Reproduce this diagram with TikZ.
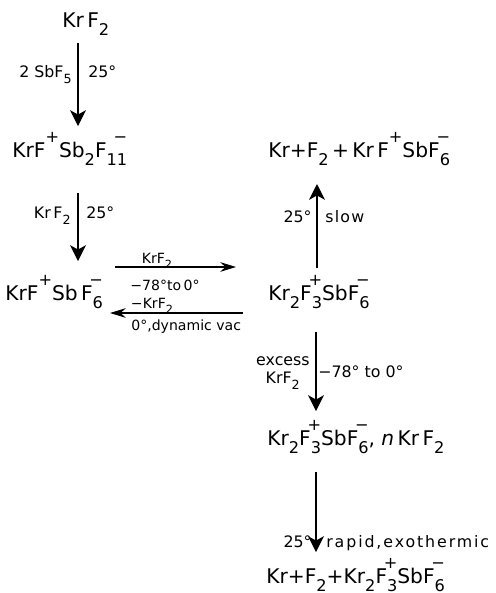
\documentclass[tikz,border=0pt]{standalone}
\usepackage{fontspec}
\setmainfont{DejaVu Sans}
\usepackage{graphicx}
\usetikzlibrary{arrows.meta}
\newcommand\cs[1]{\raisebox{-0.75ex}{\scalebox{0.8}{#1}}}
\newcommand\cp[1]{\raisebox{1.35ex}{\scalebox{0.8}{#1}}}
\newcommand\csp[2]{\cs{#1}\llap{\cp{#2}}}
\begin{document}
\begin{tikzpicture}[x=0.02cm,y=-0.02cm,
 chem/.style={inner sep=0pt,anchor=base west,font=\fontsize{11.5}{13}\selectfont},
 lab/.style={inner sep=0pt,font=\fontsize{9}{10}\selectfont},
 labs/.style={inner sep=0pt,font=\fontsize{8}{9}\selectfont},
 labl/.style={lab,anchor=base east},
 labr/.style={lab,anchor=base west},
 labc/.style={labs,anchor=base},
 rx/.style={line width=0.7pt,-{Stealth[length=9pt,width=9pt,inset=2.5pt]}},
 rxh/.style={line width=0.7pt,-{Stealth[length=9pt,width=5.5pt,inset=3pt]}}]
\useasboundingbox (0,0) rectangle (495,593);
% species
\node[chem] (a) at (62,27) {Kr\,F\cs{2}};
\node[chem] (b) at (12,157) {KrF\cp{+}Sb\cs{2}F\csp{11}{−}};
\node[chem] (c) at (5,300) {KrF\cp{+}Sb\,F\csp{6}{−}};
\node[chem] (d) at (268,157) {Kr+F\cs{2}\,+\,Kr\,F\cp{+}SbF\csp{6}{−}};
\node[chem] (e) at (268,300) {Kr\cs{2}F\csp{3}{+}SbF\csp{6}{−}};
\node[chem] (f) at (267,445) {Kr\cs{2}F\csp{3}{+}SbF\csp{6}{−}, \textit{n}\,Kr\,F\cs{2}};
\node[chem] (g) at (266,583) {Kr+F\cs{2}+Kr\cs{2}F\csp{3}{+}SbF\csp{6}{−}};
% arrow ends
\coordinate (a1s) at (78,43);  \coordinate (a1e) at (78,126);
\coordinate (a2s) at (78,193); \coordinate (a2e) at (78,261);
\coordinate (h1s) at (115,267); \coordinate (h1e) at (236,267);
\coordinate (h2s) at (243,313); \coordinate (h2e) at (110,313);
\coordinate (u1s) at (317,268); \coordinate (u1e) at (317,184);
\coordinate (d1s) at (316,332); \coordinate (d1e) at (316,411);
\coordinate (d2s) at (316,472); \coordinate (d2e) at (316,552);
\draw[rx] (a1s) -- (a1e);
\draw[rx] (a2s) -- (a2e);
\draw[rxh] (h1s) -- (h1e);
\draw[rxh] (h2s) -- (h2e);
\draw[rx] (u1s) -- (u1e);
\draw[rx] (d1s) -- (d1e);
\draw[rx] (d2s) -- (d2e);
% labels
\node[labl] (l1) at (72,77) {2 SbF\cs{5}};
\node[labr] (l2) at (88,77) {25°};
\node[labl] (l3) at (71,218) {Kr\,F\cs{2}};
\node[labr] (l4) at (86,218) {25°};
\node[labc] (l5) at (157,263) {KrF\cs{2}};
\node[labc] (l6) at (165,290) {−78°to\,0°};
\node[labc] (l7) at (152,308) {−KrF\cs{2}};
\node[labs,anchor=base west] (l8) at (131,330) {0°,dynamic vac};
\node[labl] (l9) at (312,222) {25°};
\node[labr] (l10) at (325,222) {\addfontfeatures{LetterSpace=8}slow};
\node[labl] (l11) at (310,365) {excess};
\node[labl] (l12) at (300,383) {KrF\cs{2}};
\node[labr] (l13) at (318,377) {−78° to 0°};
\node[labl] (l14) at (312,547) {25°};
\node[labr] (l15) at (326,547) {\addfontfeatures{LetterSpace=12}rapid,exothermic};
\end{tikzpicture}
\end{document}
